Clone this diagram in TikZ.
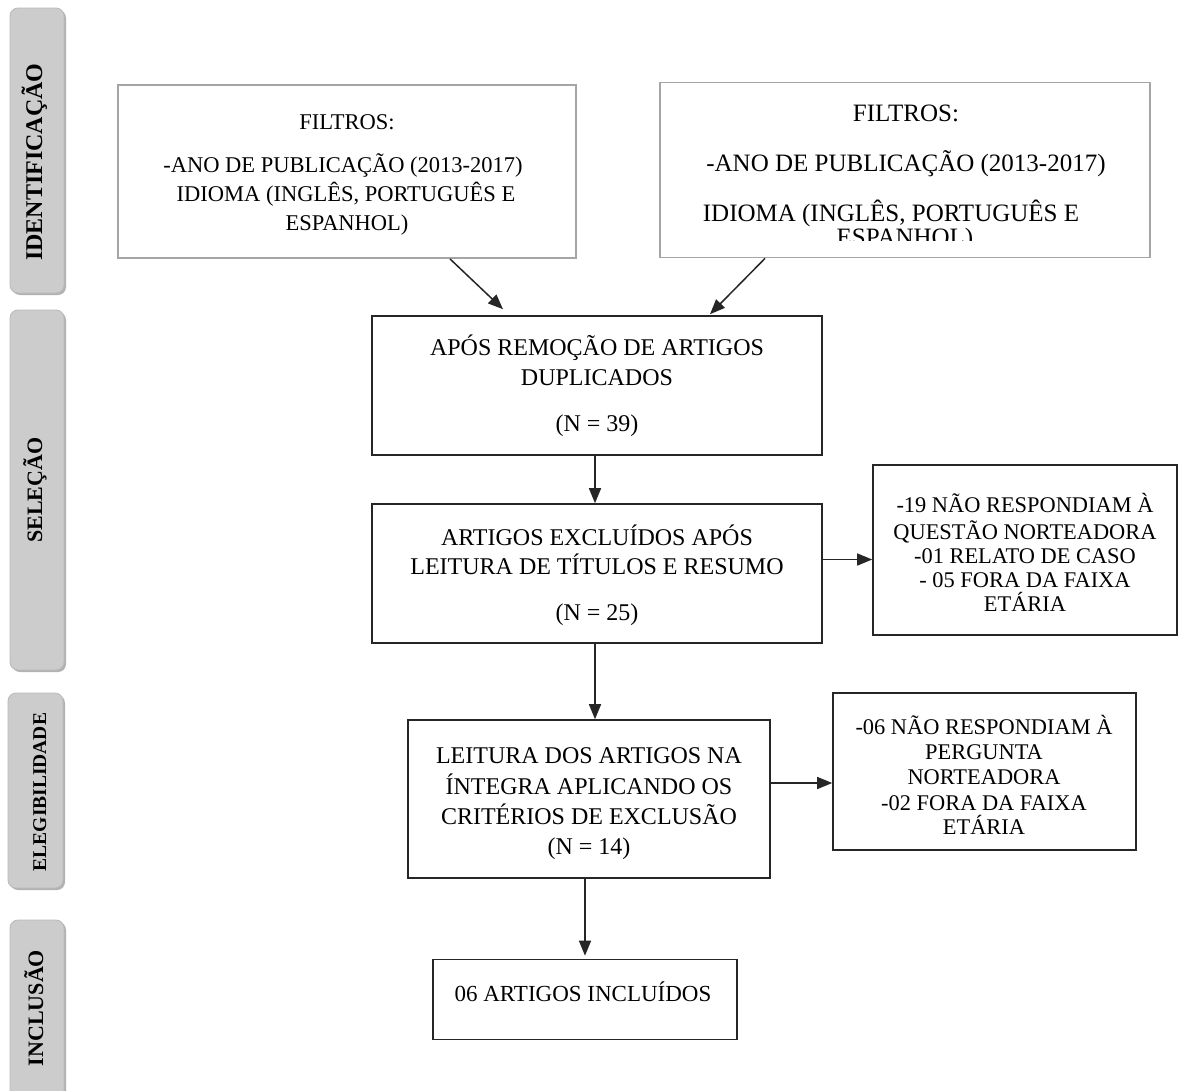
\documentclass[tikz,border=0pt]{standalone}
\usepackage{fontspec}
\setmainfont{Liberation Serif}
\usetikzlibrary{arrows.meta}
\definecolor{sidegray}{RGB}{204,204,204}
\definecolor{sideedge}{RGB}{185,185,185}
\definecolor{shadowgray}{RGB}{178,178,178}
\definecolor{boxgray}{RGB}{165,165,165}
\begin{document}
\begin{tikzpicture}[x=1pt,y=-1pt,
  side/.style={draw=sideedge, line width=0.8, fill=sidegray, rounded corners=8, minimum width=54, inner sep=0},
  sidetext/.style={rotate=90, anchor=base, inner sep=0, font=\bfseries\fontsize{22}{26}\selectfont},
  mbox/.style={draw=black!85, line width=1.6, inner sep=0},
  gbox/.style={draw=boxgray, line width=1.8, inner sep=0},
  ln/.style={anchor=base, inner sep=0},
  fa/.style={font=\fontsize{22.5}{26}\selectfont},
  fb/.style={font=\fontsize{25}{28}\selectfont},
  fc/.style={font=\fontsize{24}{28}\selectfont},
  fd/.style={font=\fontsize{22.4}{26}\selectfont},
  arr/.style={draw=black!85, line width=1.5, -{Triangle[length=15,width=12]}}
]
\useasboundingbox (0,0) rectangle (1181,1090);
\clip (0,0) rectangle (1181,1090);
\fill[white] (0,0) rectangle (1181,1090);

% sidebar shadows
\fill[shadowgray, rounded corners=8] (12,10) rectangle (66,295);
\fill[shadowgray, rounded corners=8] (12,312) rectangle (66,672);
\fill[shadowgray, rounded corners=8] (10,695) rectangle (65,890);
\fill[shadowgray, rounded corners=8] (12,922) rectangle (66,1120);

% sidebars
\node[side, minimum height=285] (s1) at (37,150.5) {};
\node[side, minimum height=360] (s2) at (37,490) {};
\node[side, minimum width=55, minimum height=195] (s3) at (35.5,790.5) {};
\node[side, minimum height=200] (s4) at (37,1020) {};
\node[sidetext, font=\bfseries\fontsize{24}{26}\selectfont] (s1t) at (42,162) {IDENTIFICAÇÃO};
\node[sidetext] (s2t) at (42,490) {SELEÇÃO};
\node[sidetext, font=\bfseries\fontsize{19.5}{22}\selectfont] (s3t) at (46,792) {ELEGIBILIDADE};
\node[sidetext] (s4t) at (43,1008) {INCLUSÃO};

% top boxes
\node[gbox, minimum width=458, minimum height=173] (tl) at (347,171.5) {};
\node[gbox, minimum width=490, minimum height=175] (tr) at (905,170) {};

\node[ln, fa] (tl1) at (347,129) {FILTROS:};
\node[ln, fa] (tl2) at (343,172) {-ANO DE PUBLICAÇÃO (2013-2017)};
\node[ln, fa] (tl3) at (346,201) {IDIOMA (INGLÊS, PORTUGUÊS E};
\node[ln, fa] (tl4) at (347,230) {ESPANHOL)};

\node[ln, fb] (tr1) at (906,121) {FILTROS:};
\node[ln, fb] (tr2) at (906,171) {-ANO DE PUBLICAÇÃO (2013-2017)};
\node[ln, fb] (tr3) at (891,221) {IDIOMA (INGLÊS, PORTUGUÊS E};
\begin{scope}
\clip (600,200) rectangle (1181,240);
\node[ln, fb] (tr4) at (905,245) {ESPANHOL)};
\end{scope}

% middle boxes
\node[mbox, minimum width=450, minimum height=139] (aps) at (597,385.5) {};
\node[ln, fc] (aps1) at (597,355) {APÓS REMOÇÃO DE ARTIGOS};
\node[ln, fc] (aps2) at (597,385) {DUPLICADOS};
\node[ln, fc] (aps3) at (597,431) {(N = 39)};

\node[mbox, minimum width=450, minimum height=139] (art) at (597,573.5) {};
\node[ln, fc] (art1) at (597,545) {ARTIGOS EXCLUÍDOS APÓS};
\node[ln, fc] (art2) at (597,574) {LEITURA DE TÍTULOS E RESUMO};
\node[ln, fc] (art3) at (597,620) {(N = 25)};

\node[mbox, minimum width=304, minimum height=170] (rb1) at (1025,550) {};
\node[ln, fd] (rb11) at (1025,512) {-19 NÃO RESPONDIAM À};
\node[ln, fd] (rb12) at (1025,539) {QUESTÃO NORTEADORA};
\node[ln, fd] (rb13) at (1025,563) {-01 RELATO DE CASO};
\node[ln, fd] (rb14) at (1025,587) {- 05 FORA DA FAIXA};
\node[ln, fd] (rb15) at (1025,611) {ETÁRIA};

\node[mbox, minimum width=362, minimum height=158] (lei) at (589,799) {};
\node[ln, fc] (lei1) at (589,763) {LEITURA DOS ARTIGOS NA};
\node[ln, fc] (lei2) at (589,794) {ÍNTEGRA APLICANDO OS};
\node[ln, fc] (lei3) at (589,824) {CRITÉRIOS DE EXCLUSÃO};
\node[ln, fc] (lei4) at (589,854) {(N = 14)};

\node[mbox, minimum width=303, minimum height=157] (rb2) at (984.5,771.5) {};
\node[ln, fd] (rb21) at (984,734) {-06 NÃO RESPONDIAM À};
\node[ln, fd] (rb22) at (984,759) {PERGUNTA};
\node[ln, fd] (rb23) at (984,784) {NORTEADORA};
\node[ln, fd] (rb24) at (984,810) {-02 FORA DA FAIXA};
\node[ln, fd] (rb25) at (984,834) {ETÁRIA};

\node[mbox, minimum width=304, minimum height=80] (fin) at (585,999.5) {};
\node[ln, font=\fontsize{23}{26}\selectfont] (fin1) at (583,1001) {06 ARTIGOS INCLUÍDOS};

% connectors
\draw[arr] ([xshift=103]tl.south) -- ([xshift=-94,yshift=6]aps.north);
\draw[arr] ([xshift=-140]tr.south) -- ([xshift=113,yshift=1]aps.north);
\draw[arr] ([xshift=-2]aps.south) -- ([xshift=-2]art.north);
\draw[arr] ([yshift=14]art.east) -- ([yshift=14]art.east -| rb1.west);
\draw[arr] ([xshift=-2]art.south) -- ([xshift=-2]art.south |- lei.north);
\draw[arr] ([yshift=16]lei.east) -- ([yshift=16]lei.east -| rb2.west);
\draw[arr] ([xshift=-4]lei.south) -- ([xshift=-4,yshift=3]lei.south |- fin.north);
\end{tikzpicture}
\end{document}
